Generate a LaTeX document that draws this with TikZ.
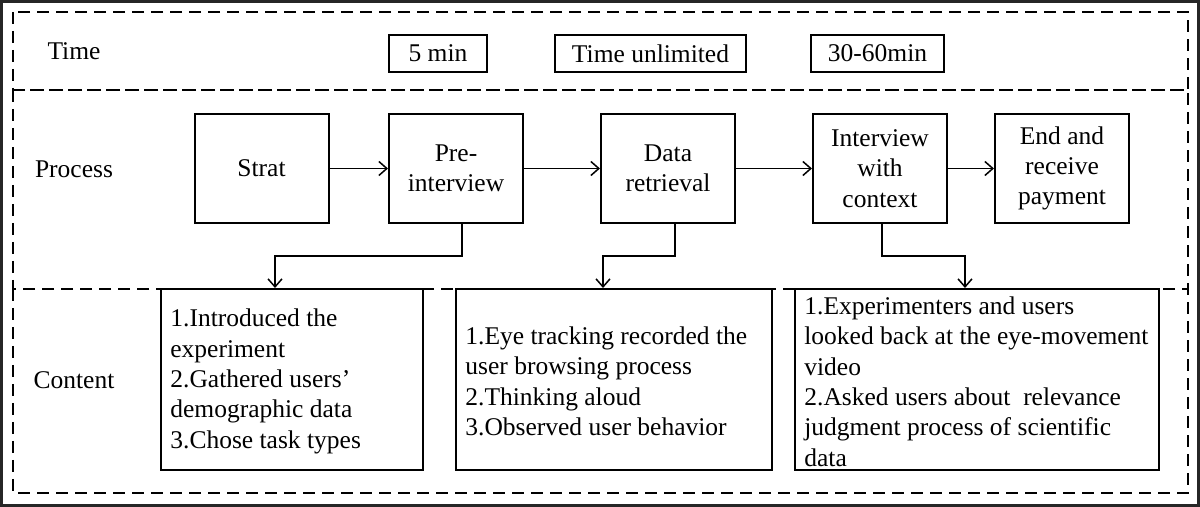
\documentclass[tikz,border=0pt]{standalone}
\usepackage{fontspec}
\setmainfont{Liberation Serif}
\usetikzlibrary{arrows.meta,calc}
\begin{document}
\begin{tikzpicture}[x=0.5pt,y=-0.5pt,
  every node/.style={font=\fontsize{12.75pt}{15.2pt}\selectfont},
  frame/.style={draw=black!85, line width=1.5pt},
  region/.style={draw=black, line width=1pt, dash pattern=on 6pt off 3.5pt},
  tbox/.style={draw, line width=1pt, minimum height=18.5pt, inner sep=0pt},
  pbox/.style={draw, line width=1pt, minimum width=67pt, minimum height=54.5pt, align=center, inner sep=0pt},
  cbox/.style={draw, line width=1pt, minimum height=90.5pt, inner sep=0pt},
  ctext/.style={align=left, inner sep=0pt, anchor=west},
  arr/.style={-{Straight Barb[length=4pt,width=7pt]}, line width=0.75pt},
  lbl/.style={inner sep=0pt}]
\useasboundingbox (0,0) rectangle (1200,507);
\draw[frame] (1.5,1.5) rectangle (1198.5,505.5);
\draw[region] (13,12) rectangle (1188,90);
\draw[region] (13,90) rectangle (1188,289);
\draw[region] (13,289) rectangle (1188,493);
% row labels
\node[lbl] (tl) at (74,51) {Time};
\node[lbl] (pl) at (74,169) {Process};
\node[lbl] (cl) at (74,380) {Content};
% time boxes
\node[tbox, minimum width=49pt] (t1) at (438,53.5) {5 min};
\node[tbox, minimum width=95.5pt] (t2) at (650.5,53.5) {Time unlimited};
\node[tbox, minimum width=66.5pt] (t3) at (877.5,53.5) {30-60min};
% process boxes
\node[pbox] (s) at (261.5,168.5) {Strat};
\node[pbox] (pre) at (456,168.5) {Pre-\\interview};
\node[pbox] (dr) at (668,168.5) {Data\\retrieval};
\node[pbox] (iw) at (880,168.5) {Interview\\with\\context};
\node[pbox] (end) at (1062,168.5) {End and\\receive\\payment};
\draw[arr] (s.east) -- (pre.west);
\draw[arr] (pre.east) -- (dr.west);
\draw[arr] (dr.east) -- (iw.west);
\draw[arr] (iw.east) -- (end.west);
% content boxes
\node[cbox, minimum width=131pt] (c1) at (292,379.5) {};
\node[cbox, minimum width=158pt] (c2) at (614,379.5) {};
\node[cbox, minimum width=182pt] (c3) at (977,379.5) {};
\node[ctext] (c1t) at ([xshift=5pt,yshift=-1pt]c1.west) {1.Introduced the\\experiment\\2.Gathered users’\\demographic data\\3.Chose task types};
\node[ctext] (c2t) at ([xshift=5pt,yshift=-1pt]c2.west) {1.Eye tracking recorded the\\user browsing process\\2.Thinking aloud\\3.Observed user behavior};
\node[ctext] (c3t) at ([xshift=5pt,yshift=-1pt]c3.west) {1.Experimenters and users\\looked back at the eye-movement\\video\\2.Asked users about\ \ relevance\\judgment process of scientific\\data};
% connectors to content
\coordinate (e1) at (275,256);
\coordinate (e2) at (603,256);
\coordinate (e3) at (965,256);
\draw[arr] ([xshift=3pt]pre.south) |- (e1) -- (e1 |- c1.north);
\draw[arr] ([xshift=3.5pt]dr.south) |- (e2) -- (e2 |- c2.north);
\draw[arr] ([xshift=1pt]iw.south) |- (e3) -- (e3 |- c3.north);
\end{tikzpicture}
\end{document}
